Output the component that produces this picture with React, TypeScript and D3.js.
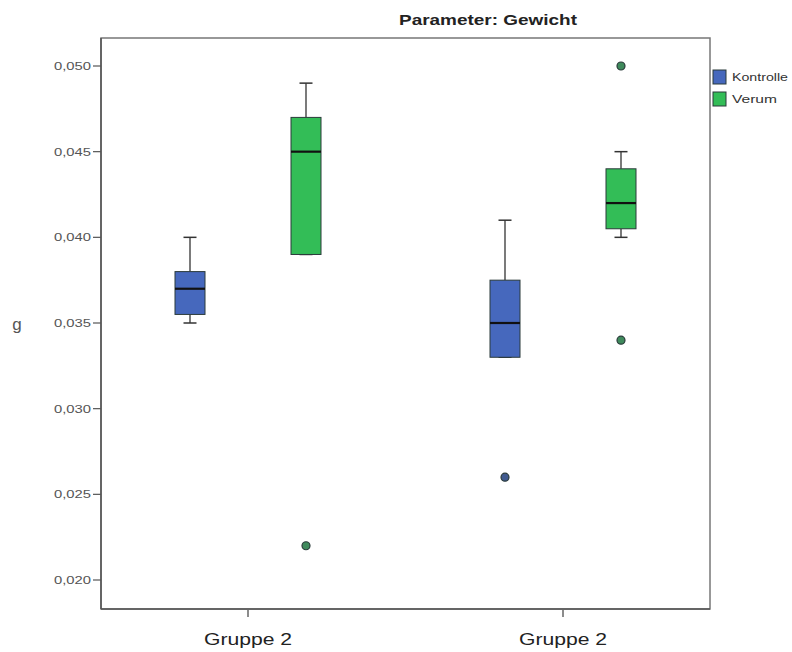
import React from "react";
import * as d3 from "d3";

// data
const groups = ["Gruppe 2", "Gruppe 2"];
const series = ["Kontrolle", "Verum"];
const colors = ["#4668bd", "#33bd57"];
const outlierColors = ["#405a8f", "#3f8a5c"];

const kontrolleMin = [0.035, 0.033];
const kontrolleQ1 = [0.0355, 0.033];
const kontrolleMedian = [0.037, 0.035];
const kontrolleQ3 = [0.038, 0.0375];
const kontrolleMax = [0.04, 0.041];
const kontrolleOutliers = [[], [0.026]];

const verumMin = [0.039, 0.04];
const verumQ1 = [0.039, 0.0405];
const verumMedian = [0.045, 0.042];
const verumQ3 = [0.047, 0.044];
const verumMax = [0.049, 0.045];
const verumOutliers = [[0.022], [0.05, 0.034]];

const yTicks = [0.02, 0.025, 0.03, 0.035, 0.04, 0.045, 0.05];

const stats = [
  { min: kontrolleMin, q1: kontrolleQ1, med: kontrolleMedian, q3: kontrolleQ3, max: kontrolleMax, out: kontrolleOutliers },
  { min: verumMin, q1: verumQ1, med: verumMedian, q3: verumQ3, max: verumMax, out: verumOutliers },
];

const font = "Arial, 'Liberation Sans', sans-serif";

export default function App() {
  const left = 101,
    right = 710,
    top = 38,
    bottom = 609;

  const y = d3.scaleLinear().domain([0.02, 0.05]).range([580, 66]);
  const x = d3.scalePoint<number>().domain([0, 1]).range([248, 563]);
  const xs = d3.scalePoint<string>().domain(series).range([-58, 58]);
  const boxW = 30;
  const capW = 13;
  const fmt = (v: number) => d3.format(".3f")(v).replace(".", ",");

  return (
    <svg width={792} height={652} style={{ position: "absolute", left: 0, top: 0, background: "#fff" }}>
      <text x={488} y={25} textAnchor="middle" fontFamily={font} fontWeight="bold" fontSize={14}
        fill="#222" textLength={178} lengthAdjust="spacingAndGlyphs">
        Parameter: Gewicht
      </text>

      {/* frame */}
      <rect x={left} y={top} width={right - left} height={bottom - top} fill="none" stroke="#777" strokeWidth={1.5} />
      <line x1={left} x2={left} y1={top} y2={bottom} stroke="#555" strokeWidth={1.5} />
      <line x1={left} x2={right} y1={bottom} y2={bottom} stroke="#555" strokeWidth={1.5} />

      {/* y axis */}
      {yTicks.map((t) => (
        <g key={t} transform={`translate(0,${y(t)})`}>
          <line x1={left - 8} x2={left} stroke="#555" strokeWidth={1.2} />
          <text x={91} dy="0.35em" textAnchor="end" fontFamily={font} fontSize={11.5} fill="#555"
            textLength={37} lengthAdjust="spacingAndGlyphs">
            {fmt(t)}
          </text>
        </g>
      ))}
      <text x={17} y={330} textAnchor="middle" fontFamily={font} fontSize={17} fill="#555">g</text>

      {/* x axis */}
      {groups.map((g, i) => (
        <g key={i} transform={`translate(${x(i)},0)`}>
          <line y1={bottom} y2={bottom + 8} stroke="#666" strokeWidth={1.5} />
          <text y={645} textAnchor="middle" fontFamily={font} fontSize={16} fill="#222"
            textLength={88} lengthAdjust="spacingAndGlyphs">
            {g}
          </text>
        </g>
      ))}

      {/* boxes */}
      {groups.map((g, i) =>
        series.map((s, j) => {
          const st = stats[j];
          const cx = (x(i) as number) + (xs(s) as number);
          return (
            <g key={`${i}-${j}`}>
              <line x1={cx} x2={cx} y1={y(st.max[i])} y2={y(st.q3[i])} stroke="#333" strokeWidth={1.3} />
              <line x1={cx} x2={cx} y1={y(st.q1[i])} y2={y(st.min[i])} stroke="#333" strokeWidth={1.3} />
              <line x1={cx - capW / 2} x2={cx + capW / 2} y1={y(st.max[i])} y2={y(st.max[i])} stroke="#333" strokeWidth={1.5} />
              <line x1={cx - capW / 2} x2={cx + capW / 2} y1={y(st.min[i])} y2={y(st.min[i])} stroke="#333" strokeWidth={1.5} />
              <rect x={cx - boxW / 2} y={y(st.q3[i])} width={boxW} height={y(st.q1[i]) - y(st.q3[i])}
                fill={colors[j]} stroke="#2b3a3a" strokeWidth={1} />
              <line x1={cx - boxW / 2} x2={cx + boxW / 2} y1={y(st.med[i])} y2={y(st.med[i])} stroke="#111" strokeWidth={2.2} />
              {st.out[i].map((v, k) => (
                <circle key={k} cx={cx} cy={y(v)} r={4} fill={outlierColors[j]} stroke="#2a3a3a" strokeWidth={1.2} />
              ))}
            </g>
          );
        })
      )}

      {/* legend */}
      {series.map((s, j) => (
        <g key={s} transform={`translate(713,${70 + j * 22})`}>
          <rect width={13} height={14} fill={colors[j]} stroke="#2b3a3a" strokeWidth={1} />
          <text x={19} y={11} fontFamily={font} fontSize={10.5} fill="#333"
            textLength={s === "Kontrolle" ? 56 : 45} lengthAdjust="spacingAndGlyphs">
            {s}
          </text>
        </g>
      ))}
    </svg>
  );
}
